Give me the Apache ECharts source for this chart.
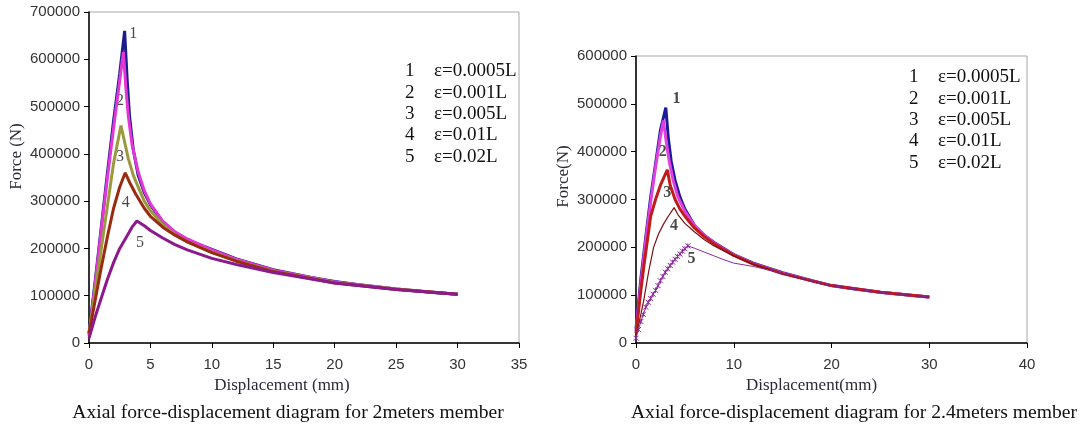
<!DOCTYPE html>
<html>
<head>
<meta charset="utf-8">
<script src="https://cdn.jsdelivr.net/npm/echarts@6/dist/echarts.min.js"></script>
<style>
html,body{margin:0;padding:0;background:#fff;}
#main{width:1081px;height:426px;}
</style>
</head>
<body>
<div id="main"></div>
<script>
// ---------- data ----------
const seriesNames = ['ε=0.0005L', 'ε=0.001L', 'ε=0.005L', 'ε=0.01L', 'ε=0.02L'];
const curveNumbers = ['1', '2', '3', '4', '5'];

// 2 m member: [displacement (mm), force (N)]
const L1 = [[0,20000],[0.5,130000],[1,245000],[1.5,360000],[2,470000],[2.5,570000],[2.9,660000],[3.1,560000],[3.3,480000],[3.6,410000],[4,355000],[4.5,318000],[5,292000],[6,256000],[7,233000],[8,218000],[9,208000],[10,198000],[12,178000],[15,155000],[18,139000],[20,130000],[22,123000],[25,114000],[28,107000],[30,103000]];
const L2 = [[0,15000],[0.5,125000],[1,240000],[1.5,350000],[2,455000],[2.5,555000],[2.8,615000],[3.0,540000],[3.2,480000],[3.5,420000],[4,362000],[4.5,322000],[5,294000],[6,258000],[7,235000],[8,220000],[10,197000],[12,177000],[15,154000],[20,129000],[25,114000],[30,103000]];
const L3 = [[0,20000],[0.5,110000],[1,200000],[1.5,290000],[2,380000],[2.6,460000],[2.9,425000],[3.2,390000],[3.6,355000],[4,330000],[4.5,300000],[5,280000],[6,250000],[7,229000],[8,214000],[10,192000],[12,174000],[15,152000],[20,128000],[25,114000],[30,103000]];
const L4 = [[0,20000],[0.5,90000],[1,160000],[1.5,225000],[2,285000],[2.5,330000],[2.95,360000],[3.3,340000],[3.8,315000],[4.5,285000],[5,268000],[6,245000],[7,228000],[8,214000],[10,191000],[12,173000],[15,151000],[20,127000],[25,113000],[30,103000]];
const L5 = [[0,10000],[0.5,55000],[1,95000],[1.5,135000],[2,170000],[2.5,200000],[3,222000],[3.5,245000],[3.9,258000],[4.5,248000],[5,238000],[6,222000],[7,208000],[8,197000],[10,179000],[12,166000],[15,149000],[20,127000],[25,113000],[30,103000]];

// 2.4 m member
const R1 = [[0,30000],[0.5,135000],[1,222000],[1.5,305000],[2,375000],[2.5,445000],[3.05,492000],[3.3,430000],[3.6,380000],[4,340000],[4.5,305000],[5,280000],[6,245000],[7,225000],[8,210000],[10,185000],[12,167000],[15,147000],[18,130000],[20,120000],[22,114000],[25,106000],[28,100000],[30,96000]];
const R2 = [[0,25000],[0.5,125000],[1,215000],[1.5,295000],[2,368000],[2.5,432000],[2.8,465000],[3.1,420000],[3.4,380000],[3.8,340000],[4.3,305000],[5,275000],[6,245000],[7,225000],[8,209000],[10,184000],[12,166000],[15,146000],[20,120000],[25,106000],[30,96000]];
const R3 = [[0,20000],[0.5,110000],[0.8,160000],[1.5,265000],[2,300000],[2.5,330000],[3.2,362000],[3.5,330000],[4,300000],[4.5,280000],[5,265000],[6,240000],[7,222000],[8,207000],[10,183000],[12,165000],[15,145000],[20,120000],[25,106000],[30,96000]];
const R4 = [[0,15000],[0.5,60000],[0.8,90000],[1.3,150000],[1.8,200000],[2.3,228000],[2.8,248000],[3.3,265000],[3.9,283000],[4.3,268000],[5,250000],[6,232000],[7,216000],[8,203000],[10,182000],[12,164000],[15,145000],[20,120000],[25,106000],[30,96000]];
const R5 = [[0,10000],[0.25,28000],[0.5,45000],[0.75,60000],[1,75000],[1.25,85000],[1.5,93000],[1.75,102000],[2,110000],[2.25,120000],[2.5,130000],[2.75,139000],[3,148000],[3.25,155000],[3.5,162000],[3.75,169000],[4,175000],[4.25,181000],[4.5,186000],[4.75,192000],[5,197000],[5.3,203000],[6,198000],[7,190000],[8,182000],[9,174000],[10,167000],[12,160000],[15,146000],[20,120000],[25,106000],[30,96000]];

// curve-number annotations: [displacement, force, text]
const leftCurveLabels = [[3.6,653000,'1'],[2.52,512000,'2'],[2.52,393000,'3'],[3.0,296000,'4'],[4.15,211000,'5']];
const rightCurveLabels = [[4.15,510000,'1'],[2.73,399000,'2'],[3.19,313000,'3'],[3.9,245000,'4'],[5.67,176000,'5']];

// axis ticks
const leftX = {min:0, max:35, step:5};
const leftY = {min:0, max:700000, step:100000};
const rightX = {min:0, max:40, step:10};
const rightY = {min:0, max:600000, step:100000};

const chartTitles = ['Axial force-displacement diagram for 2meters member', 'Axial force-displacement diagram for 2.4meters member'];
const xNames = ['Displacement (mm)', 'Displacement(mm)'];
const yNames = ['Force (N)', 'Force(N)'];

// ---------- styling ----------
const serif = '"Liberation Serif", "Times New Roman", serif';
const sans = '"Liberation Sans", Arial, sans-serif';
const leftColors = ['#1c1c8c', '#e236d6', '#9a9a3c', '#9a2a10', '#8c1a8c'];
const rightColors = ['#1a1a9a', '#e040e0', '#c01c1c', '#7a1010', '#8a2a9a'];
const leftWidths = [3, 3, 3, 3, 3];
const rightWidths = [3, 3, 3, 1.2, 1];

function xAxis(idx, cfg, name, pad) {
  return {
    type: 'value', gridIndex: idx, min: cfg.min, max: cfg.max, interval: cfg.step,
    name: name, nameLocation: 'middle', nameGap: 34,
    nameTextStyle: {fontFamily: serif, fontSize: 17, color: '#2a2a3a', padding: pad},
    axisLine: {show: true, onZero: false, lineStyle: {color: '#000', width: 1.5}},
    axisTick: {show: true, inside: false, length: 5, lineStyle: {color: '#000'}},
    axisLabel: {fontFamily: sans, fontSize: 15, color: '#333', margin: 14, formatter: v => String(v)},
    splitLine: {show: false}
  };
}
function yAxis(idx, cfg, name, pad, gap) {
  return {
    type: 'value', gridIndex: idx, min: cfg.min, max: cfg.max, interval: cfg.step,
    name: name, nameLocation: 'middle', nameGap: gap,
    nameTextStyle: {fontFamily: serif, fontSize: 17, color: '#2a2a3a', padding: pad},
    axisLine: {show: true, onZero: false, lineStyle: {color: '#000', width: 1.5}},
    axisTick: {show: true, inside: false, length: 5, lineStyle: {color: '#000'}},
    axisLabel: {fontFamily: sans, fontSize: 15, color: '#333', margin: 9, formatter: v => String(v)},
    splitLine: {show: false}
  };
}

function peakIndex(d) {
  let k = 0;
  d.forEach((p, j) => { if (p[1] > d[k][1]) k = j; });
  return k;
}

const leftData = [L1, L2, L3, L4, L5];
const rightData = [R1, R2, R3, R4, R5];
const series = [];
leftData.forEach((d, i) => {
  series.push({
    type: 'line', name: seriesNames[i], xAxisIndex: 0, yAxisIndex: 0, data: d,
    showSymbol: false, symbol: 'none', smooth: false,
    lineStyle: {color: leftColors[i], width: leftWidths[i]}, itemStyle: {color: leftColors[i]}
  });
});
rightData.forEach((d, i) => {
  const isCross = i === 4;
  const pk = peakIndex(d);
  series.push({
    type: 'line', name: seriesNames[i], xAxisIndex: 1, yAxisIndex: 1,
    data: isCross ? d.map((p, j) => j > pk ? {value: p, symbol: 'none'} : p) : d,
    showSymbol: isCross, symbol: isCross ? 'path://M0,0L10,10M10,0L0,10M5,0L5,10' : 'none', symbolSize: 5,
    lineStyle: {color: rightColors[i], width: rightWidths[i]},
    itemStyle: {color: rightColors[i], borderColor: rightColors[i], borderWidth: 1}
  });
});
function labelSeries(idx, labels, bold) {
  return {
    type: 'scatter', xAxisIndex: idx, yAxisIndex: idx, symbolSize: 0, silent: true,
    data: labels.map(l => ({value: [l[0], l[1]], name: l[2]})),
    label: {show: true, position: 'inside', formatter: p => p.name,
      fontFamily: serif, fontSize: 16, fontWeight: bold ? 'bold' : 'normal', color: '#1a1a1a'}
  };
}
series.push(labelSeries(0, leftCurveLabels, false));
series.push(labelSeries(1, rightCurveLabels, true));

function legend(left, top) {
  return {
    left: left, top: top, orient: 'vertical', itemGap: 2.3,
    itemWidth: 0, itemHeight: 0, icon: 'rect', selectedMode: false,
    itemStyle: {opacity: 0}, lineStyle: {opacity: 0},
    data: seriesNames,
    formatter: name => '{n|' + curveNumbers[seriesNames.indexOf(name)] + '}{e|' + name + '}',
    textStyle: {
      rich: {
        n: {fontFamily: serif, fontSize: 19, color: '#111', width: 29, align: 'left'},
        e: {fontFamily: serif, fontSize: 19, color: '#111'}
      }
    }
  };
}

const option = {
  animation: false,
  backgroundColor: '#fff',
  title: [
    {text: chartTitles[0], left: 283, top: 398, textAlign: 'center',
     textStyle: {fontFamily: serif, fontSize: 19.6, fontWeight: 'normal', color: '#111'}},
    {text: chartTitles[1], left: 849, top: 398, textAlign: 'center',
     textStyle: {fontFamily: serif, fontSize: 19.6, fontWeight: 'normal', color: '#111'}}
  ],
  grid: [
    {left: 89, top: 12, width: 430, height: 331, show: true, borderColor: '#a8a8a8', borderWidth: 1, backgroundColor: 'transparent'},
    {left: 636, top: 56, width: 391, height: 287, show: true, borderColor: '#a8a8a8', borderWidth: 1, backgroundColor: 'transparent'}
  ],
  xAxis: [xAxis(0, leftX, xNames[0], [0, 44, 0, 0]), xAxis(1, rightX, xNames[1], [0, 40, 0, 0])],
  yAxis: [yAxis(0, leftY, yNames[0], [0, 0, 0, 42], 64), yAxis(1, rightY, yNames[1], [0, 0, 0, 46], 64)],
  legend: [legend(395, 57), legend(899, 63)],
  series: series
};

const chart = echarts.init(document.getElementById('main'), null, {renderer: 'canvas'});
chart.setOption(option);
</script>
</body>
</html>
